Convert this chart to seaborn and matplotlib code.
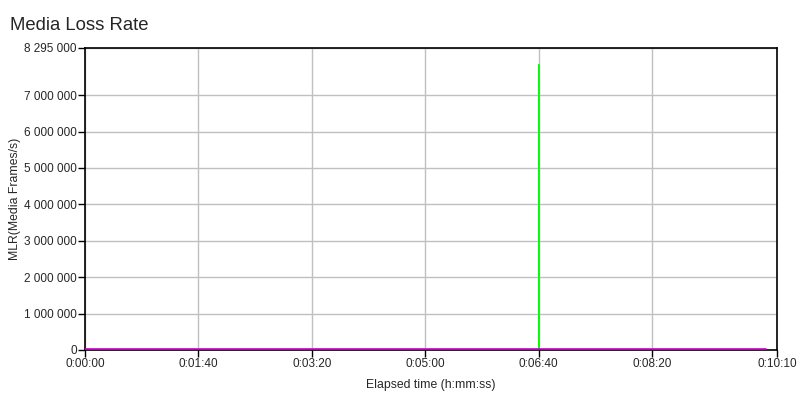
import pandas as pd
import matplotlib
matplotlib.use("Agg")
import matplotlib.pyplot as plt
import matplotlib.transforms as mtransforms
import seaborn as sns
from matplotlib.ticker import FuncFormatter, FixedLocator

# -----------------------------------------
# 1. DATA
# -----------------------------------------

# elapsed time in seconds
green_time = [0, 20, 21, 22, 400, 400, 400, 600]
green_mlr = [0, 0, 12000, 0, 0, 7830000, 0, 0]

magenta_time = [0, 600]
magenta_mlr = [0, 0]

y_ticks = [0, 1000000, 2000000, 3000000, 4000000, 5000000, 6000000, 7000000, 8295000]
x_ticks = [0, 100, 200, 300, 400, 500, 610]

# -----------------------------------------
# 2. FORMATTERS
# -----------------------------------------

def fmt_thousands(v, pos=None):
    return f"{int(round(v)):,}".replace(",", " ")


def fmt_hms(v, pos=None):
    s = int(round(v))
    return f"{s // 3600}:{(s % 3600) // 60:02d}:{s % 60:02d}"

# -----------------------------------------
# 3. PLOT
# -----------------------------------------

sns.set_style("white")
plt.rcParams['font.family'] = ['Liberation Sans', 'DejaVu Sans']

green_df = pd.DataFrame({"t": green_time, "mlr": green_mlr})
magenta_df = pd.DataFrame({"t": magenta_time, "mlr": magenta_mlr})

fig = plt.figure(figsize=(8, 4), dpi=100)
ax = fig.add_axes([0.10625, 0.125, 0.865, 0.755])

sns.lineplot(data=green_df, x="t", y="mlr", ax=ax, color="#00FF00",
             linewidth=1, sort=False, estimator=None)
sns.lineplot(data=magenta_df, x="t", y="mlr", ax=ax, color="#CC00CC",
             linewidth=1.2, estimator=None)

# lift the zero line one pixel so it sits just above the axis line
shift = mtransforms.ScaledTranslation(0, 1.2 / 100, fig.dpi_scale_trans)
ax.lines[-1].set_transform(ax.transData + shift)
ax.lines[-1].set_zorder(5)

ax.set_xlim(0, 610)
ax.set_ylim(0, 8295000)

ax.xaxis.set_major_locator(FixedLocator(x_ticks))
ax.yaxis.set_major_locator(FixedLocator(y_ticks))
ax.xaxis.set_major_formatter(FuncFormatter(fmt_hms))
ax.yaxis.set_major_formatter(FuncFormatter(fmt_thousands))

ax.grid(True, color="#C0C0C0", linewidth=1)
ax.set_axisbelow(True)

for sp in ax.spines.values():
    sp.set_color("black")
    sp.set_linewidth(1.2)

ax.tick_params(axis="both", direction="out", length=5, width=1, color="black",
               labelsize=8.5, pad=1, bottom=True, left=True)

ax.set_xlabel("Elapsed time (h:mm:ss)", fontsize=8.8, labelpad=6)
ax.set_ylabel("MLR(Media Frames/s)", fontsize=8.8, labelpad=2)

fig.text(0.0125, 0.937, "Media Loss Rate", fontsize=13.3, va="center", ha="left")

plt.savefig("out.png", dpi=100)
